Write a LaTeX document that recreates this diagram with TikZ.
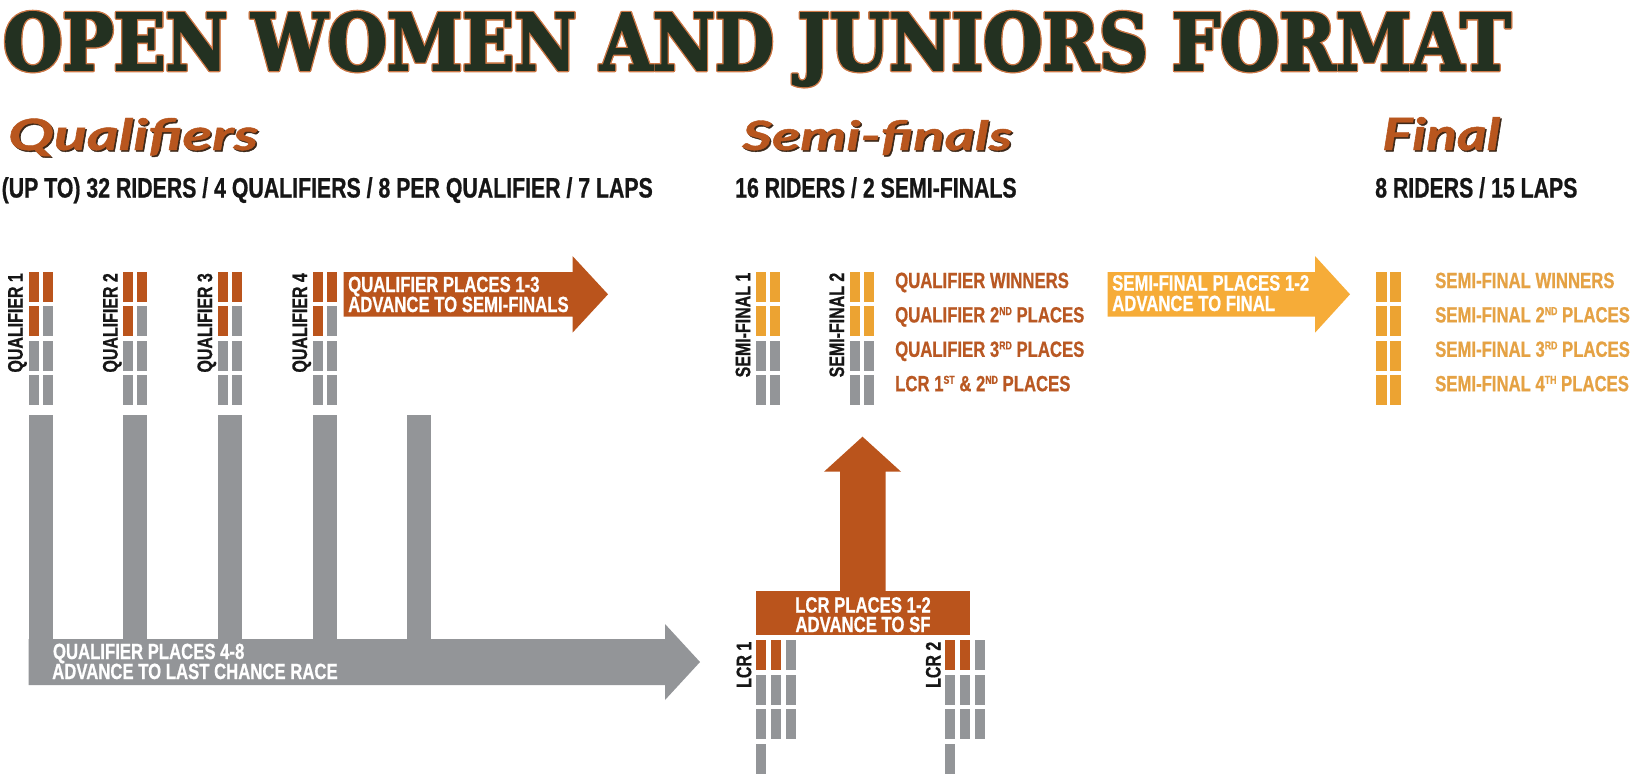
\documentclass[tikz,border=0pt]{standalone}
\usepackage{fontspec}
\usepackage{graphicx}
\newfontfamily\cnd{Liberation Sans}[FakeStretch=0.76,FakeBold=0.7]
\newfontfamily\ttl{DejaVu Serif}[FakeBold=2.5]
\newfontfamily\scr{Lato}[FakeBold=1]
\definecolor{rorange}{RGB}{186,84,28}
\definecolor{rgray}{RGB}{147,149,152}
\definecolor{rgold}{RGB}{236,163,50}
\definecolor{rgoldarrow}{RGB}{246,172,56}
\definecolor{rgoldtxt}{RGB}{229,162,68}
\definecolor{rbrowntxt}{RGB}{185,88,35}
\definecolor{rgreen}{RGB}{35,49,33}
\definecolor{rtitleline}{RGB}{205,120,70}
\definecolor{rblack}{RGB}{22,22,22}
\definecolor{rscr}{RGB}{184,86,30}
\definecolor{rscrsh}{RGB}{60,40,25}
\newcommand\sps[1]{\raisebox{7.4pt}{\fontsize{11.5}{11.5}\selectfont #1}}
\newcommand\titletext{\resizebox{1507pt}{58pt}{\ttl\bfseries OPEN WOMEN AND JUNIORS FORMAT}}
\newcommand\rbar[4]{\fill[#4] (#1,#2) rectangle ++(#3,30);}
\tikzset{
  lbl/.style={font=\cnd\bfseries\fontsize{21}{21}\selectfont, text=rblack, rotate=90, anchor=base east, inner sep=0},
  subhead/.style={font=\cnd\bfseries\fontsize{28}{28}\selectfont, text=rblack, anchor=base west, inner sep=0},
  lst/.style={font=\cnd\bfseries\fontsize{22}{22}\selectfont, anchor=base west, inner sep=0},
  wtxt/.style={font=\cnd\bfseries\fontsize{22}{22}\selectfont, text=white, anchor=base west, inner sep=0},
  plain/.style={anchor=base west, inner sep=0},
}
\begin{document}
\begin{tikzpicture}[x=1pt,y=-1pt]
\fill[white] (0,0) rectangle (1633,774);
\useasboundingbox (0,0) rectangle (1633,774);
% title with outline
\foreach \dx/\dy [count=\k] in {1.3/0,-1.3/0,0/1.3,0/-1.3,0.95/0.95,-0.95/0.95,0.95/-0.95,-0.95/-0.95}
  \node[plain, text=rtitleline] (tl\k) at (3+\dx,70+\dy) {\titletext};
\node[plain, text=rgreen] (title) at (3,70) {\titletext};
% section headers
\node[plain, text=rscrsh] (hq0) at (9.5,151.5) {\resizebox{250pt}{32pt}{\scr\bfseries\itshape Qualifiers}};
\node[plain, text=rscr] (hq) at (8,150) {\resizebox{250pt}{32pt}{\scr\bfseries\itshape Qualifiers}};
\node[plain, text=rscrsh] (hs0) at (743.5,151.5) {\resizebox{270pt}{30pt}{\scr\bfseries\itshape Semi-finals}};
\node[plain, text=rscr] (hs) at (742,150) {\resizebox{270pt}{30pt}{\scr\bfseries\itshape Semi-finals}};
\node[plain, text=rscrsh] (hf0) at (1383.5,151.5) {\resizebox{118pt}{33pt}{\scr\bfseries\itshape Final}};
\node[plain, text=rscr] (hf) at (1382,150) {\resizebox{118pt}{33pt}{\scr\bfseries\itshape Final}};
% sub headings
\node[subhead] (sq) at (1.5,197.5) {(UP TO) 32 RIDERS / 4 QUALIFIERS / 8 PER QUALIFIER / 7 LAPS};
\node[subhead] (ss) at (735,197.5) {16 RIDERS / 2 SEMI-FINALS};
\node[subhead] (sf) at (1375,197.5) {8 RIDERS / 15 LAPS};
% qualifiers
\foreach \i/\cx in {1/28.5,2/123.4,3/217.9,4/312.8} {
  \node[lbl] (q\i) at (\cx-5.8,273) {QUALIFIER \i};
  \rbar{\cx}{272}{10}{rorange}
  \rbar{\cx+14}{272}{10}{rorange}
  \rbar{\cx}{306.4}{10}{rorange}
  \rbar{\cx+14}{306.4}{10}{rgray}
  \rbar{\cx}{340.8}{10}{rgray}
  \rbar{\cx+14}{340.8}{10}{rgray}
  \rbar{\cx}{375.2}{10}{rgray}
  \rbar{\cx+14}{375.2}{10}{rgray}
}
% orange arrow to semi-finals
\fill[rorange] (343.5,272) -- (572.5,272) -- (572.5,256) -- (608,294.3) -- (572.5,332.7) -- (572.5,316.7) -- (343.5,316.7) -- cycle;
\node[wtxt] (qa1) at (348,292) {QUALIFIER PLACES 1-3};
\node[wtxt] (qa2) at (348,312) {ADVANCE TO SEMI-FINALS};
% gray collectors
\fill[rgray] (28.5,415) rectangle (52.5,685);
\foreach \cx in {123.4,217.9,312.8,407.3}
  \fill[rgray] (\cx,415) rectangle (\cx+24,639.5);
\fill[rgray] (28.5,639) -- (665,639) -- (665,624) -- (700,662) -- (665,700) -- (665,685) -- (28.5,685) -- cycle;
\node[wtxt] (ga1) at (52.8,659) {QUALIFIER PLACES 4-8};
\node[wtxt] (ga2) at (52,679) {ADVANCE TO LAST CHANCE RACE};
% semi-finals
\foreach \i/\cx in {1/755.7,2/849.5} {
  \node[lbl] (s\i) at (\cx-5.5,272.5) {SEMI-FINAL \i};
  \rbar{\cx}{272}{10}{rgold}
  \rbar{\cx+14}{272}{10}{rgold}
  \rbar{\cx}{306.4}{10}{rgold}
  \rbar{\cx+14}{306.4}{10}{rgold}
  \rbar{\cx}{340.8}{10}{rgray}
  \rbar{\cx+14}{340.8}{10}{rgray}
  \rbar{\cx}{375.2}{10}{rgray}
  \rbar{\cx+14}{375.2}{10}{rgray}
}
\node[lst, text=rbrowntxt] (sl1) at (895,288) {QUALIFIER WINNERS};
\node[lst, text=rbrowntxt] (sl2) at (895,322.4) {QUALIFIER 2\sps{ND} PLACES};
\node[lst, text=rbrowntxt] (sl3) at (895,356.8) {QUALIFIER 3\sps{RD} PLACES};
\node[lst, text=rbrowntxt] (sl4) at (895,391.2) {LCR 1\sps{ST} \& 2\sps{ND} PLACES};
% gold arrow to final
\fill[rgoldarrow] (1107.5,272) -- (1315,272) -- (1315,256) -- (1350,294.3) -- (1315,332.7) -- (1315,316.7) -- (1107.5,316.7) -- cycle;
\node[wtxt] (sa1) at (1112,290.5) {SEMI-FINAL PLACES 1-2};
\node[wtxt] (sa2) at (1112,311) {ADVANCE TO FINAL};
% final
\foreach \ry in {272,306.4,340.8,375.2} {
  \rbar{1376}{\ry}{10.5}{rgold}
  \rbar{1390}{\ry}{10.5}{rgold}
}
\node[lst, text=rgoldtxt] (fl1) at (1435,288) {SEMI-FINAL WINNERS};
\node[lst, text=rgoldtxt] (fl2) at (1435,322.4) {SEMI-FINAL 2\sps{ND} PLACES};
\node[lst, text=rgoldtxt] (fl3) at (1435,356.8) {SEMI-FINAL 3\sps{RD} PLACES};
\node[lst, text=rgoldtxt] (fl4) at (1435,391.2) {SEMI-FINAL 4\sps{TH} PLACES};
% LCR up arrow and box
\fill[rorange] (840,591) -- (840,471.7) -- (824,471.7) -- (862.5,436.7) -- (901,471.7) -- (885.5,471.7) -- (885.5,591) -- cycle;
\fill[rorange] (755.7,590.7) rectangle (970,635);
\node[wtxt, anchor=base] (la1) at (863,612.5) {LCR PLACES 1-2};
\node[wtxt, anchor=base] (la2) at (863,632) {ADVANCE TO SF};
% LCR heats
\foreach \i/\cx in {1/755.7,2/945} {
  \node[lbl] (l\i) at (\cx-4.5,641.5) {LCR \i};
  \rbar{\cx}{640}{10}{rorange}
  \rbar{\cx+15}{640}{10}{rorange}
  \rbar{\cx+30}{640}{10}{rgray}
  \rbar{\cx}{674.5}{10}{rgray}
  \rbar{\cx+15}{674.5}{10}{rgray}
  \rbar{\cx+30}{674.5}{10}{rgray}
  \rbar{\cx}{709}{10}{rgray}
  \rbar{\cx+15}{709}{10}{rgray}
  \rbar{\cx+30}{709}{10}{rgray}
  \fill[rgray] (\cx,743.5) rectangle (\cx+10,774);
}
\end{tikzpicture}
\end{document}
